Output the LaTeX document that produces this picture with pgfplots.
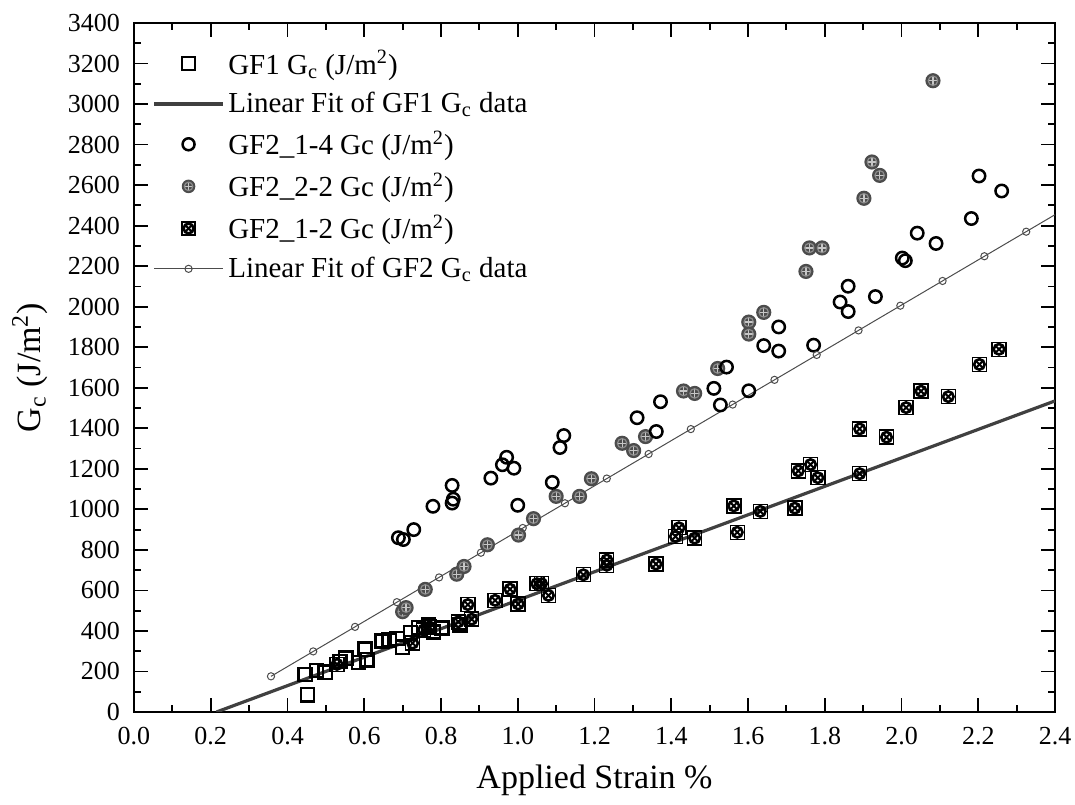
\documentclass[border=0pt]{standalone}
\usepackage{pgfplots}
\pgfplotsset{compat=1.18}
\usepackage{fontspec}
\setmainfont{Liberation Serif}

\pgfdeclareplotmark{gplus}{%
 \pgfpathcircle{\pgfpointorigin}{\pgfplotmarksize}%
 \pgfsetfillcolor{black!70}\pgfusepath{fill}%
 \pgfsetstrokecolor{black!22}\pgfsetlinewidth{0.6pt}%
 \pgfpathmoveto{\pgfpoint{-0.62\pgfplotmarksize}{0pt}}\pgfpathlineto{\pgfpoint{0.62\pgfplotmarksize}{0pt}}%
 \pgfpathmoveto{\pgfpoint{0pt}{-0.62\pgfplotmarksize}}\pgfpathlineto{\pgfpoint{0pt}{0.62\pgfplotmarksize}}%
 \pgfusepath{stroke}%
 \pgfsetstrokecolor{black!45}%
 \pgfpathcircle{\pgfpointorigin}{0.62\pgfplotmarksize}\pgfusepath{stroke}}

\pgfdeclareplotmark{sqx}{%
 \pgfsetstrokecolor{black}%
 \pgfsetlinewidth{0.7pt}%
 \pgfpathrectangle{\pgfpoint{-\pgfplotmarksize}{-\pgfplotmarksize}}{\pgfpoint{2\pgfplotmarksize}{2\pgfplotmarksize}}%
 \pgfusepath{stroke}%
 \pgfsetlinewidth{1.3pt}%
 \pgfpathcircle{\pgfpointorigin}{0.75\pgfplotmarksize}%
 \pgfusepath{stroke}%
 \pgfsetlinewidth{1pt}%
 \pgfpathmoveto{\pgfpoint{-0.55\pgfplotmarksize}{-0.55\pgfplotmarksize}}\pgfpathlineto{\pgfpoint{0.55\pgfplotmarksize}{0.55\pgfplotmarksize}}%
 \pgfpathmoveto{\pgfpoint{-0.55\pgfplotmarksize}{0.55\pgfplotmarksize}}\pgfpathlineto{\pgfpoint{0.55\pgfplotmarksize}{-0.55\pgfplotmarksize}}%
 \pgfusepath{stroke}}

\pgfplotstableread{
x y
0.446 185
0.452 85
0.476 204
0.498 196
0.537 250
0.552 265
0.585 245
0.602 310
0.607 258
0.646 350
0.665 355
0.686 362
0.700 320
0.720 391
0.741 417
0.767 430
0.780 395
0.802 414
0.850 430
}\gfone

\pgfplotstableread{
x y
0.689 860
0.702 851
0.729 900
0.779 1015
0.829 1118
0.829 1031
0.832 1050
0.930 1154
0.960 1220
0.971 1257
0.990 1203
1.000 1020
1.090 1133
1.110 1305
1.120 1364
1.311 1452
1.361 1384
1.372 1531
1.511 1597
1.528 1515
1.544 1702
1.602 1585
1.641 1808
1.680 1900
1.680 1781
1.771 1810
1.840 2023
1.861 2101
1.861 1976
1.932 2050
2.002 2240
2.010 2227
2.041 2363
2.090 2312
2.182 2435
2.202 2645
2.261 2571
}\gftwoa

\pgfplotstableread{
x y
0.700 495
0.709 515
0.759 605
0.841 680
0.860 718
0.921 825
1.002 873
1.041 954
1.100 1064
1.161 1064
1.192 1151
1.272 1326
1.302 1290
1.333 1359
1.432 1584
1.461 1572
1.521 1695
1.602 1924
1.602 1865
1.641 1972
1.751 2174
1.760 2290
1.793 2290
1.902 2535
1.923 2714
1.943 2648
2.082 3115
}\gftwob

\pgfplotstableread{
x y
0.529 235
0.726 340
0.755 405
0.770 420
0.845 445
0.870 530
0.880 458
0.941 551
0.980 606
1.001 533
1.050 633
1.062 633
1.080 575
1.171 677
1.232 750
1.232 724
1.360 730
1.411 866
1.420 909
1.461 858
1.563 1017
1.572 887
1.632 990
1.722 1006
1.731 1190
1.763 1221
1.782 1156
1.891 1176
1.891 1397
1.961 1356
2.012 1502
2.051 1583
2.122 1556
2.203 1715
2.254 1790
}\gftwoc

\pgfplotstableread{
x y
0.357 176
0.467 299
0.576 420
0.685 542
0.795 664
0.904 786
1.013 908
1.123 1030
1.232 1152
1.341 1273
1.451 1396
1.560 1517
1.669 1639
1.779 1762
1.888 1883
1.997 2005
2.107 2127
2.216 2249
2.325 2370
}\fittwo

\begin{document}
\begin{tikzpicture}
\begin{axis}[
 name=ax,
 width=460.5pt, height=344.5pt, scale only axis,
 xmin=0, xmax=2.4, ymin=0, ymax=3400,
 xtick={0,0.2,0.4,0.6,0.8,1.0,1.2,1.4,1.6,1.8,2.0,2.2,2.4},
 ytick={0,200,400,600,800,1000,1200,1400,1600,1800,2000,2200,2400,2600,2800,3000,3200,3400},
 minor x tick num=1, minor y tick num=1,
 tick align=inside, major tick length=7pt, minor tick length=3.5pt,
 every tick/.style={black, line width=0.9pt},
 axis line style={line width=1.2pt},
 /pgf/number format/assume math mode=true,
 ticklabel style={font=\fontsize{13}{15}\selectfont},
 x tick label style={/pgf/number format/fixed, /pgf/number format/fixed zerofill, /pgf/number format/precision=1, yshift=-4pt},
 y tick label style={/pgf/number format/fixed, /pgf/number format/1000 sep={}, xshift=-3.5pt},
 xlabel={Applied Strain \%}, ylabel={G\textsubscript{c} (J/m\textsuperscript{2})},
 label style={font=\fontsize{17}{20}\selectfont},
 xlabel style={at={(axis description cs:0.5,-0.099)}, anchor=center},
 ylabel style={at={(axis description cs:-0.113,0.5)}, anchor=center},
 legend style={draw=none, fill=none, at={(0.02,0.967)}, anchor=north west,
   font=\fontsize{14.5}{16}\selectfont, row sep=3.6pt, inner sep=0pt},
 legend cell align=left,
 legend image code/.code={\draw[mark repeat=2,mark phase=2,#1] plot coordinates {(0cm,0cm) (0.6cm,0cm) (1.2cm,0cm)};},
]
\addlegendimage{only marks, mark=square, mark size=3.2pt, line width=1.2pt, black}
\addlegendentry{GF1 G\textsubscript{c} (J/m\textsuperscript{2})}
\addlegendimage{black!75, line width=1.6pt}
\addlegendentry{Linear Fit of GF1 G\textsubscript{c} data}
\addlegendimage{only marks, mark=o, mark size=3pt, line width=1.25pt, black}
\addlegendentry{GF2\_1-4 Gc (J/m\textsuperscript{2})}
\addlegendimage{only marks, mark=gplus, mark size=3.4pt}
\addlegendentry{GF2\_2-2 Gc (J/m\textsuperscript{2})}
\addlegendimage{only marks, mark=sqx, mark size=3.3pt}
\addlegendentry{GF2\_1-2 Gc (J/m\textsuperscript{2})}
\addlegendimage{black!70, line width=0.5pt, mark=o, mark size=1.8pt, mark options={fill=white, line width=0.5pt}}
\addlegendentry{Linear Fit of GF2 G\textsubscript{c} data}

\addplot[forget plot, only marks, mark=square, mark size=3.3pt, line width=1.2pt, black] table {\gfone};
\addplot[forget plot, only marks, mark=gplus, mark size=3.8pt] table {\gftwob};
\addplot[forget plot, only marks, mark=sqx, mark size=3.5pt] table {\gftwoc};
\addplot[forget plot, only marks, mark=o, mark size=3.1pt, line width=1.25pt, black] table {\gftwoa};
\addplot[forget plot, black!75, line width=1.6pt] coordinates {(0.215,0) (2.4,1535)};
\addplot[forget plot, black!70, line width=0.5pt] coordinates {(0.357,176) (2.4,2454)};
\addplot[forget plot, only marks, black!70, mark=o, mark size=1.8pt, mark options={fill=white, line width=0.5pt}] table {\fittwo};
\end{axis}
\pgfresetboundingbox
\path[use as bounding box] ([shift={(-67pt,-46.5pt)}]ax.south west) rectangle ([shift={(10pt,11.5pt)}]ax.north east);
\end{tikzpicture}
\end{document}
